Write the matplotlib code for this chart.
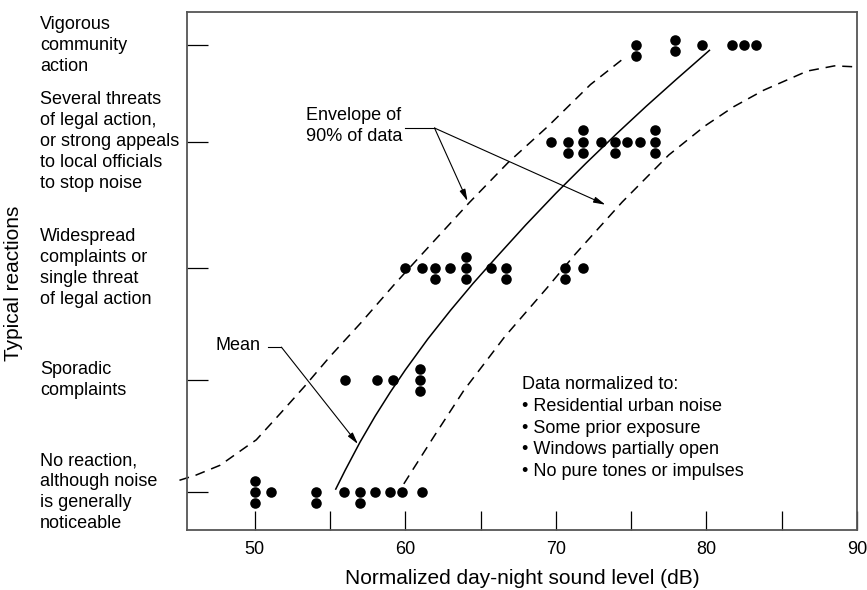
import matplotlib
matplotlib.use("Agg")
import matplotlib.pyplot as plt
from matplotlib.transforms import blended_transform_factory

plt.rcParams['font.family'] = ['Liberation Sans', 'DejaVu Sans']

# reaction categories (bottom to top) and their heights on the y scale
level_names = [
    "No reaction,\nalthough noise\nis generally\nnoticeable",
    "Sporadic\ncomplaints",
    "Widespread\ncomplaints or\nsingle threat\nof legal action",
    "Several threats\nof legal action,\nor strong appeals\nto local officials\nto stop noise",
    "Vigorous\ncommunity\naction",
]
level_pos = [7.3, 29.0, 50.6, 75.0, 93.6]

# survey points: sound level, reaction category, stacking slot
dots_db = [50.0, 50.0, 50.0, 51.1, 54.1, 54.1, 55.95, 57.0, 57.0, 58.0, 58.95, 59.8, 61.1,
           56.0, 58.1, 59.2, 61.0, 61.0, 61.0,
           60.0, 61.1, 62.0, 62.0, 63.0, 64.0, 64.0, 64.0, 65.7, 66.7, 66.7, 70.6, 70.6, 71.8,
           69.7, 70.8, 70.8, 71.8, 71.8, 71.8, 73.0, 73.9, 73.9, 74.7, 75.6, 76.6, 76.6, 76.6,
           75.3, 75.3, 77.9, 77.9, 79.7, 81.7, 82.5, 83.3]
dots_level = [0] * 13 + [1] * 6 + [2] * 14 + [3] * 14 + [4] * 8
dots_slot = [1, 0, -1, 0, 0, -1, 0, 0, -1, 0, 0, 0, 0,
             0, 0, 0, 1, 0, -1,
             0, 0, 0, -1, 0, 1, 0, -1, 0, 0, -1, 0, -1, 0,
             0, 0, -1, 1, 0, -1, 0, 0, -1, 0, 0, 1, 0, -1,
             0, -1, 0.5, -0.5, 0, 0, 0, 0]

# curves
mean_db = [55.38, 56.0, 57.0, 58.0, 59.0, 60.0, 61.5, 63.0, 64.5, 66.0, 68.0, 70.0,
           72.0, 74.0, 76.0, 78.0, 80.2]
mean_y = [7.9, 11.5, 17.0, 22.0, 26.6, 30.9, 36.9, 42.4, 47.6, 52.5, 58.9, 65.0,
          70.8, 76.4, 81.8, 87.0, 92.6]

upper_db = [45.0, 46.1, 47.7, 49.45, 50.1, 51.7, 53.3, 55.0, 57.05, 59.3, 61.5, 64.25,
            66.85, 69.5, 72.3, 74.7]
upper_y = [9.6, 10.6, 12.5, 16.1, 17.4, 22.5, 27.7, 33.5, 40.0, 47.5, 54.5, 63.2,
           71.0, 78.0, 86.0, 91.5]

lower_db = [59.9, 60.4, 62.0, 63.9, 66.6, 69.4, 71.3, 74.4, 77.5, 79.9, 81.8, 83.8,
            86.7, 88.5, 90.0]
lower_y = [8.9, 11.2, 18.5, 27.0, 37.3, 46.7, 53.3, 63.3, 72.4, 78.0, 81.7, 84.9,
           88.6, 89.6, 89.4]

note_lines = ["Data normalized to:", "• Residential urban noise", "• Some prior exposure",
              "• Windows partially open", "• No pure tones or impulses"]

fig = plt.figure(figsize=(8.67, 5.90), dpi=100)
ax = fig.add_axes([187 / 867, 1 - 530 / 590, 670 / 867, 518 / 590])
ax.set_xlim(45.5, 90)
ax.set_ylim(0, 100)

step = 2.15
ys = [level_pos[l] + s * step for l, s in zip(dots_level, dots_slot)]
ax.plot(dots_db, ys, 'o', color='black', markersize=7.6, markeredgewidth=0, zorder=3)

ax.plot(mean_db, mean_y, color='black', lw=1.1)
ax.plot(upper_db, upper_y, color='black', lw=1.1, dashes=(6.5, 4.5), clip_on=False)
ax.plot(lower_db, lower_y, color='black', lw=1.1, dashes=(6.5, 4.5))

# annotations
fs = 13
arrow = dict(arrowstyle='-|>,head_length=0.7,head_width=0.18', color='black', lw=0.8,
             shrinkA=0, shrinkB=0)
ax.text(53.4, 77.9, "Envelope of\n90% of data", fontsize=fs, ha='left', va='center',
        linespacing=1.31)
ax.plot([59.95, 61.94], [77.6, 77.6], color='black', lw=0.8)
ax.annotate("", xy=(64.13, 63.5), xytext=(61.94, 77.6), arrowprops=arrow)
ax.annotate("", xy=(73.29, 62.8), xytext=(61.94, 77.6), arrowprops=arrow)

ax.text(47.4, 35.6, "Mean", fontsize=fs, ha='left', va='center')
ax.plot([50.9, 51.77], [35.3, 35.3], color='black', lw=0.8)
ax.annotate("", xy=(56.85, 16.6), xytext=(51.77, 35.3), arrowprops=arrow)

for i, line in enumerate(note_lines):
    ax.text(67.72, 28.0 - i * 4.17, line, fontsize=fs, ha='left', va='center')

# axes styling
for side in ['left', 'bottom', 'top', 'right']:
    ax.spines[side].set_color('#555555')
    ax.spines[side].set_linewidth(1.3)

ax.set_xticks([50, 60, 70, 80, 90])
ax.set_xticks([55, 65, 75, 85], minor=True)
ax.tick_params(axis='x', which='both', direction='in', length=14, width=0.9,
               labelsize=fs, pad=8, color='black')
ax.set_yticks(level_pos)
ax.set_yticklabels([])
ax.tick_params(axis='y', direction='in', length=15, width=0.9, color='black')

trans = blended_transform_factory(fig.transFigure, ax.transData)
for name, y in zip(level_names, level_pos):
    ax.text(40 / 867, y, name, transform=trans, fontsize=fs, ha='left', va='center',
            linespacing=1.31, clip_on=False)

ax.set_xlabel("Normalized day-night sound level (dB)", fontsize=15, labelpad=8)
fig.text(14 / 867, 1 - 283 / 590, "Typical reactions", rotation=90, fontsize=15,
         ha='center', va='center')

fig.savefig("out.png", dpi=100)
